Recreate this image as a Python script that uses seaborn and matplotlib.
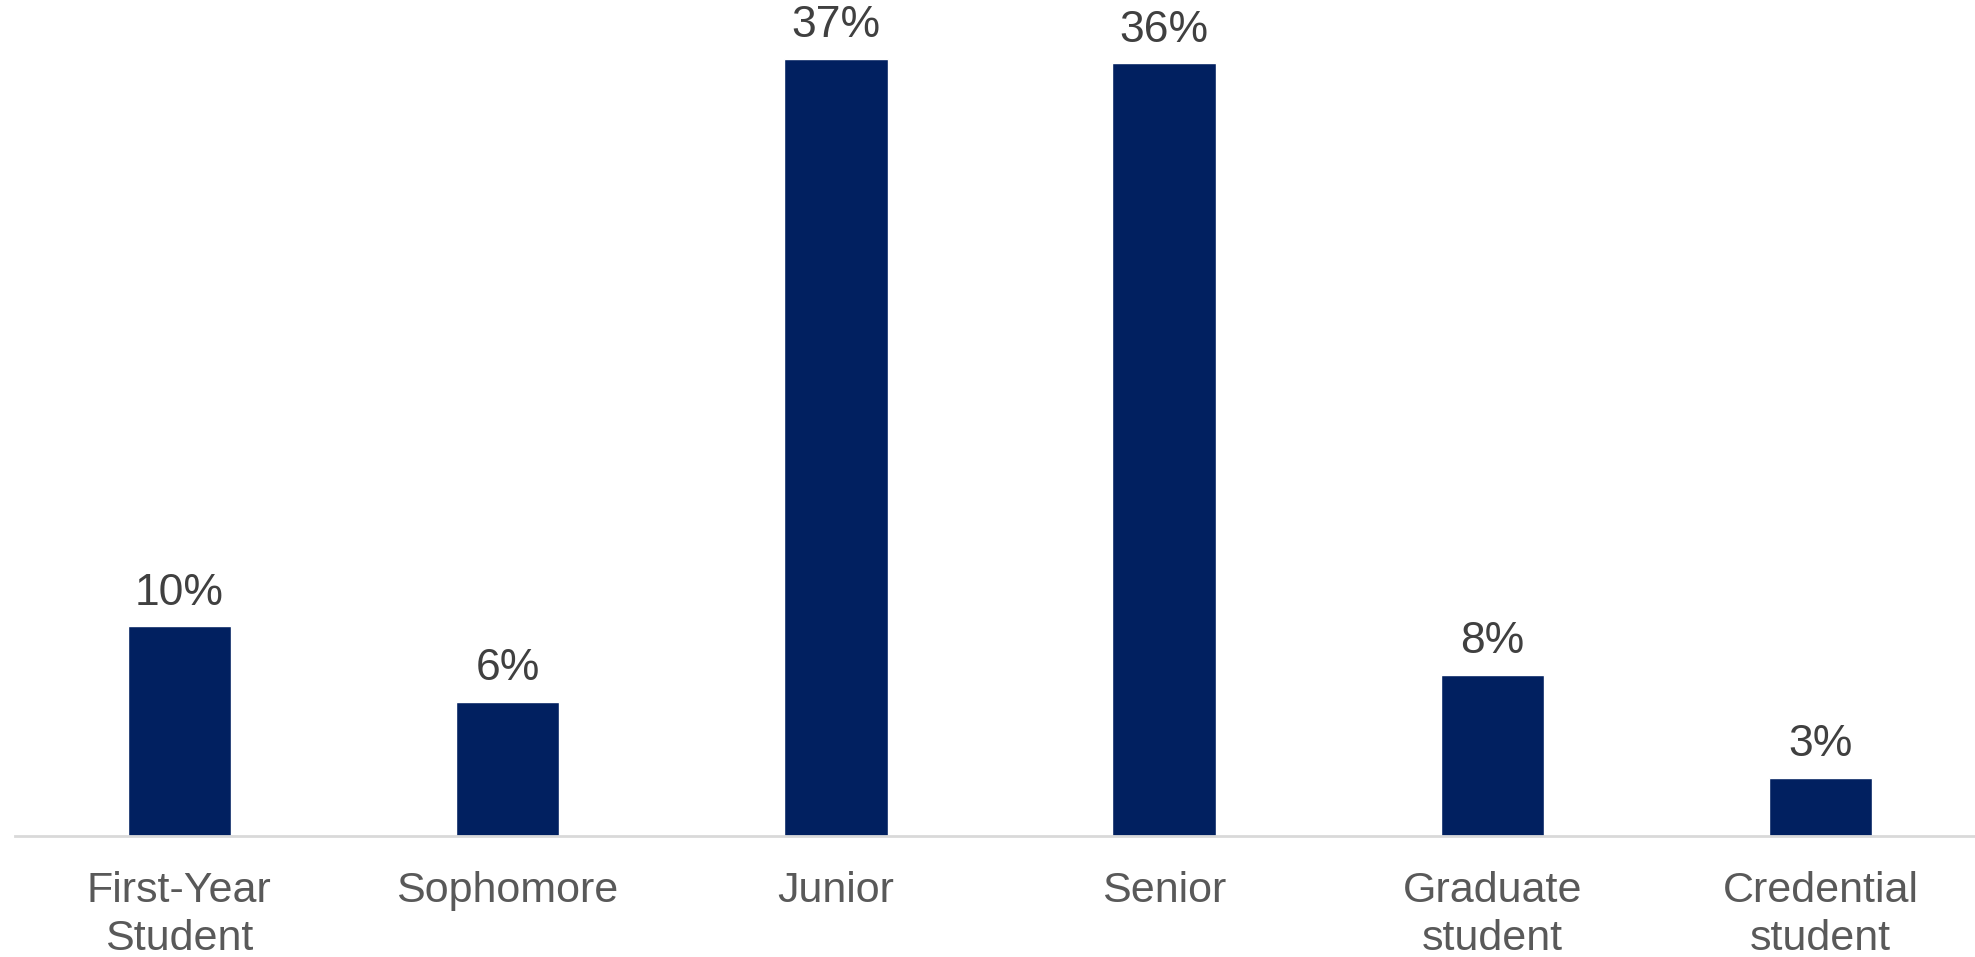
import seaborn as sns
import matplotlib.pyplot as plt

# 학년별 응답 비율
categories = ['First-Year\nStudent', 'Sophomore', 'Junior', 'Senior', 'Graduate\nstudent', 'Credential\nstudent']
values = [10.0, 6.4, 37.0, 36.8, 7.7, 2.8]
value_labels = ['10%', '6%', '37%', '36%', '8%', '3%']

sns.set_style('white')
plt.rcParams['font.family'] = ['Liberation Sans', 'DejaVu Sans']

fig = plt.figure(figsize=(19.75, 9.57), dpi=100)
ax = fig.add_axes([0.0077, 0.126, 0.9923, 0.874])

sns.barplot(x=categories, y=values, color='#012060', width=0.315, saturation=1, ax=ax)

# 막대 위 라벨
ax.bar_label(ax.containers[0], labels=value_labels, padding=9, fontsize=32, color='#404040')

ax.set_ylim(0, 39.8)
ax.set_xlim(-0.5, 5.47)
ax.set_yticks([])
ax.set_ylabel('')
ax.tick_params(axis='x', length=0, pad=25, labelsize=31, labelcolor='#595959')
for lbl in ax.get_xticklabels():
    lbl.set_linespacing(1.25)
for s in ['top', 'left', 'right']:
    ax.spines[s].set_visible(False)
ax.spines['bottom'].set_color('#d9d9d9')
ax.spines['bottom'].set_linewidth(2)

fig.savefig('out.png', dpi=100)
